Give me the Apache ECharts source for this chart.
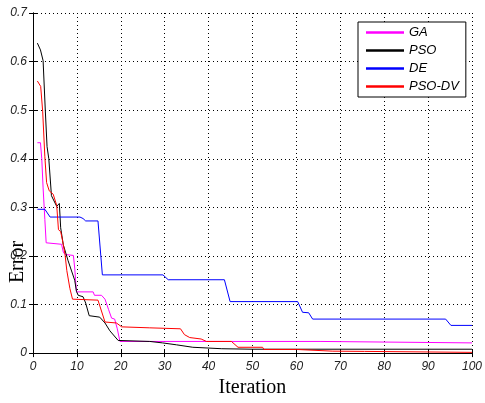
<!DOCTYPE html>
<html>
<head>
<meta charset="utf-8">
<script src="https://cdn.jsdelivr.net/npm/echarts@6/dist/echarts.min.js"></script>
<style>html,body{margin:0;padding:0;background:#fff;}#c{width:485px;height:403px;}</style>
</head>
<body>
<div id="c"></div>
<script>
const seriesNames = ['GA', 'PSO', 'DE', 'PSO-DV'];
const xTicks = [0, 10, 20, 30, 40, 50, 60, 70, 80, 90, 100];
const yTicks = [0, 0.1, 0.2, 0.3, 0.4, 0.5, 0.6, 0.7];

const gaIter = [1, 1.7, 2, 2.3, 2.7, 3, 6.5, 6.9, 7.3, 9.2, 9.5, 9.9, 13.7, 14, 15.6, 16.4, 17.2, 17.9, 18.6, 19.2, 19.8, 65.6, 66, 100];
const gaErr  = [0.433, 0.433, 0.40, 0.34, 0.275, 0.227, 0.224, 0.208, 0.203, 0.201, 0.175, 0.126, 0.126, 0.119, 0.119, 0.111, 0.09, 0.072, 0.070, 0.05, 0.024, 0.024, 0.021, 0.021];

const psoIter = [1, 1.7, 2.3, 2.8, 3.2, 3.6, 4.2, 5.4, 6, 6.3, 6.9, 8, 9.5, 9.9, 10.3, 11.4, 12, 12.8, 15.2, 16.4, 17.5, 19.4, 19.8, 26.6, 29.5, 32.7, 36.4, 43, 50, 100];
const psoErr  = [0.638, 0.624, 0.602, 0.50, 0.425, 0.40, 0.324, 0.302, 0.308, 0.258, 0.223, 0.19, 0.15, 0.127, 0.119, 0.116, 0.103, 0.077, 0.074, 0.062, 0.046, 0.026, 0.025, 0.024, 0.021, 0.017, 0.012, 0.009, 0.008, 0.008];

const deIter = [1, 2.7, 3.9, 10.7, 11.4, 12, 14.8, 15.8, 29.6, 30.8, 43.6, 44.9, 60.3, 61.4, 62.8, 63.7, 94, 95.2, 100];
const deErr  = [0.296, 0.296, 0.280, 0.280, 0.277, 0.272, 0.272, 0.161, 0.161, 0.151, 0.151, 0.106, 0.106, 0.084, 0.083, 0.070, 0.070, 0.057, 0.057];

const dvIter = [1, 1.75, 2.2, 2.7, 3.1, 3.7, 4.6, 5.4, 5.8, 6.3, 6.7, 7.3, 7.7, 8.4, 9, 14.8, 16.4, 19, 20.2, 26.6, 27, 33.6, 34.5, 35.7, 38.3, 39.5, 45.2, 45.6, 46.7, 52.3, 52.6, 60, 60.3, 68.3, 68.6, 75.5, 75.8, 100];
const dvErr  = [0.56, 0.549, 0.498, 0.404, 0.351, 0.334, 0.327, 0.304, 0.254, 0.25, 0.233, 0.203, 0.17, 0.133, 0.111, 0.109, 0.064, 0.062, 0.054, 0.052, 0.05, 0.05, 0.038, 0.032, 0.029, 0.024, 0.024, 0.020, 0.012, 0.012, 0.0075, 0.0075, 0.004, 0.004, 0.0035, 0.0035, 0.0015, 0.0015];

const colors = ['#ff00ff', '#000000', '#0000ff', '#ff0000'];
const iters = [gaIter, psoIter, deIter, dvIter];
const errs = [gaErr, psoErr, deErr, dvErr];

function zip(a, b) { return a.map((v, i) => [v, b[i]]); }

const chart = echarts.init(document.getElementById('c'), null, {renderer: 'canvas'});
const tickFont = {fontFamily: 'Liberation Sans', fontStyle: 'italic', fontSize: 12, color: '#222'};
const frameLine = {show: true, lineStyle: {color: '#000', width: 1}};
const tick = {show: true, inside: true, length: 4, lineStyle: {color: '#000', width: 1}};

chart.setOption({
  animation: false,
  backgroundColor: '#fff',
  grid: {left: 33, right: 12, top: 13, bottom: 42, containLabel: false},
  xAxis: [{
    type: 'value', min: xTicks[0], max: xTicks[xTicks.length - 1], interval: 10,
    position: 'bottom',
    name: 'Iteration', nameLocation: 'middle', nameGap: 23,
    nameTextStyle: {fontFamily: 'Liberation Serif', fontSize: 20, color: '#000'},
    axisLine: frameLine, axisTick: tick,
    axisLabel: Object.assign({margin: 8}, tickFont),
    splitLine: {show: true, lineStyle: {color: '#000', width: 1, type: [1, 3]}}
  }, {
    type: 'value', min: xTicks[0], max: xTicks[xTicks.length - 1], interval: 10,
    position: 'top', axisLine: frameLine, axisTick: tick,
    axisLabel: {show: false}, splitLine: {show: false}
  }],
  yAxis: [{
    type: 'value', min: yTicks[0], max: yTicks[yTicks.length - 1], interval: 0.1,
    position: 'left',
    axisLine: frameLine, axisTick: tick,
    axisLabel: Object.assign({margin: 6, formatter: v => String(Math.round(v * 10) / 10)}, tickFont),
    splitLine: {show: true, lineStyle: {color: '#000', width: 1, type: [1, 3]}}
  }, {
    type: 'value', min: yTicks[0], max: yTicks[yTicks.length - 1], interval: 0.1,
    position: 'right', axisLine: frameLine, axisTick: tick,
    axisLabel: {show: false}, splitLine: {show: false}
  }],
  legend: {
    data: seriesNames,
    orient: 'vertical', left: 358, top: 22,
    padding: [4, 7, 4, 8],
    itemWidth: 38, itemHeight: 14, itemGap: 5,
    icon: 'path://M0,0.47L1,0.47L1,0.53L0,0.53Z',
    backgroundColor: '#fff', borderColor: '#000', borderWidth: 1, borderRadius: 0,
    textStyle: {fontFamily: 'Liberation Sans', fontStyle: 'italic', fontSize: 13, color: '#000'}
  },
  graphic: [{
    type: 'text', x: 18, y: 262, rotation: Math.PI / 2,
    style: {text: 'Error', font: '20px "Liberation Serif"', fill: '#000', textAlign: 'center', textVerticalAlign: 'middle'}
  }],
  series: seriesNames.map((n, i) => ({
    name: n, type: 'line', xAxisIndex: 0, yAxisIndex: 0,
    data: zip(iters[i], errs[i]),
    showSymbol: false, symbol: 'none',
    lineStyle: {color: colors[i], width: 1},
    itemStyle: {color: colors[i]},
    emphasis: {disabled: true}
  }))
});
</script>
</body>
</html>
